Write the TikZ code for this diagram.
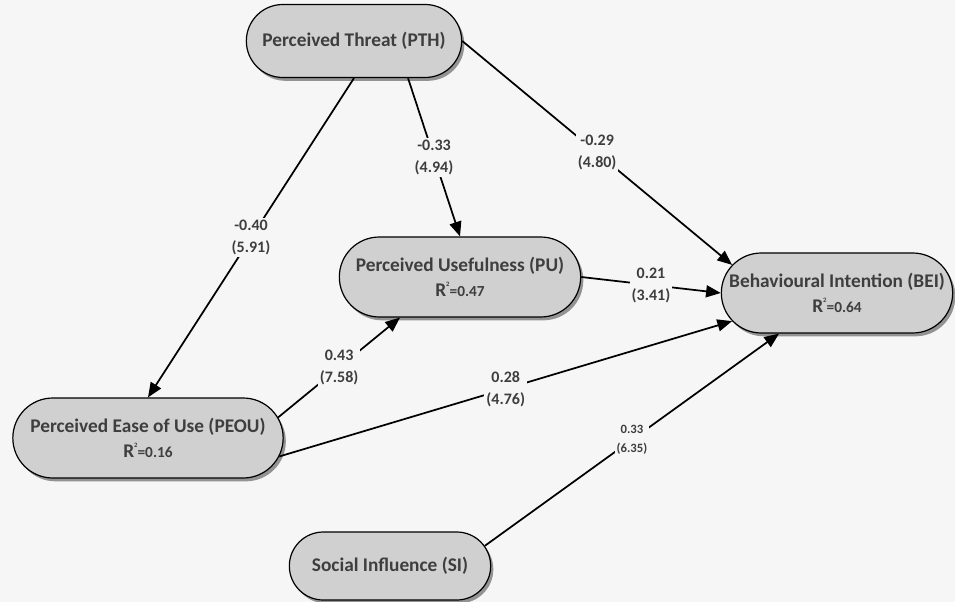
\documentclass[tikz,border=0pt]{standalone}
\usepackage{fontspec}
\setmainfont{Carlito}
\usetikzlibrary{arrows.meta, calc, shapes.misc, shadows, positioning}

\definecolor{bgcol}{RGB}{246,246,246}
\definecolor{boxcol}{RGB}{208,208,208}
\definecolor{txtcol}{RGB}{62,62,62}
\newcommand{\rsq}[1]{R\raisebox{1.1ex}{\fontsize{5}{5}\selectfont 2}{\fontsize{11.5}{12}\selectfont =#1}}

\begin{document}
\begin{tikzpicture}[
      x=0.75pt, y=-0.75pt,
      box/.style={rounded rectangle, draw, line width=0.9pt, fill=boxcol, text=txtcol, align=center,
        font=\fontsize{14.5}{17}\selectfont\bfseries, inner sep=1pt,
        drop shadow={shadow xshift=2pt, shadow yshift=-2.5pt, opacity=0.4, fill=black}},
      arr/.style={-{Triangle[length=11pt,width=9pt]}, line width=1.3pt},
      lab/.style={fill=bgcol, text=txtcol, align=center, inner sep=1.5pt,
        font=\fontsize{12}{16.5}\selectfont\bfseries},
      smalllab/.style={lab, font=\fontsize{9.5}{14}\selectfont\bfseries}
    ]

% Canvas
      \fill[bgcol] (0,0) rectangle (955,602);
      \useasboundingbox (0,0) rectangle (955,602);

% Constructs
      \node[box, minimum width=163.5pt, minimum height=54.75pt] (PTH) at (354,41) {Perceived Threat (PTH)};
      \node[box, minimum width=183pt, minimum height=60pt] (PU) at (460,277) {Perceived Usefulness (PU)\\[2pt]\rsq{0.47}};
      \node[box, minimum width=175.5pt, minimum height=60pt] (BEI) at (837,293) {Behavioural Intention (BEI)\\[2pt]\rsq{0.64}};
      \node[box, minimum width=204.75pt, minimum height=60pt] (PEOU) at (148,438) {Perceived Ease of Use (PEOU)\\[2pt]\rsq{0.16}};
      \node[box, minimum width=153pt, minimum height=51pt] (SI) at (390,566) {Social Influence (SI)};

% Paths
      \draw[arr] (PTH.south) -- (PEOU.north) node[lab, midway] {-0.40\\(5.91)};
      \draw[arr] ($(PTH.south)+(54,0)$) -- (PU.north) node[lab, midway] {-0.33\\(4.94)};
      \draw[arr] (PTH.east) -- (BEI.165) node[lab, midway] {-0.29\\(4.80)};
      \draw[arr] (PU.east) -- (BEI.west) node[lab, midway] {0.21\\(3.41)};
      \draw[arr] (PEOU.9) -- ($(PU.south)+(-60,0)$) node[lab, midway] {0.43\\(7.58)};
      \draw[arr] (PEOU.352) -- (BEI.195) node[lab, midway] {0.28\\(4.76)};
      \draw[arr] (SI.12) -- (BEI.215) node[smalllab, midway] {0.33\\(6.35)};
    \end{tikzpicture}
\end{document}
